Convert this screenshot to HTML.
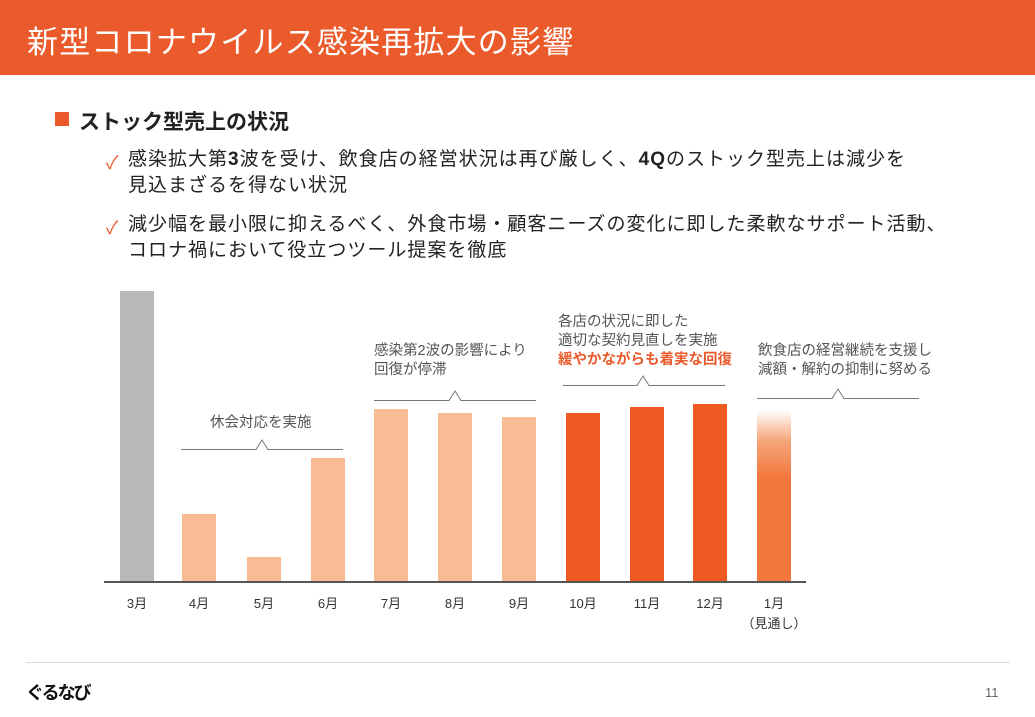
<!DOCTYPE html>
<html><head><meta charset="utf-8"><style>
body{margin:0;width:1035px;height:717px;background:#fff;position:relative;overflow:hidden;font-family:"Liberation Sans","Noto Sans CJK JP",sans-serif;}
.a{position:absolute;white-space:nowrap;}
.bar{position:absolute;width:34px;}
.lt{background:#F8BB94}
.dk{background:#EE5A22}
.ml{position:absolute;font-size:13px;color:#333;top:593px;width:60px;text-align:center;}
.note{position:absolute;font-size:14.5px;color:#555;line-height:19px;white-space:nowrap;}
.bl{position:absolute;left:128px;font-size:19px;color:#222;line-height:26px;letter-spacing:1px;white-space:nowrap;}
.ck{position:absolute;left:106px;font-size:18px;color:#EA5A2B;}
</style></head><body>
<div class="a" style="left:0;top:0;width:1035px;height:75px;background:#EA5A2B;"></div>
<div class="a" style="left:27px;top:17px;font-size:31px;color:#fff;letter-spacing:1.2px;">新型コロナウイルス感染再拡大の影響</div>
<div class="a" style="left:55px;top:112px;width:14px;height:14px;background:#EA5A2B;"></div>
<div class="a" style="left:79px;top:106px;font-size:21px;font-weight:bold;color:#222;">ストック型売上の状況</div>
<div class="ck" style="top:149px">✓</div>
<div class="bl" style="top:147px">感染拡大第<b>3</b>波を受け、飲食店の経営状況は再び厳しく、<b>4Q</b>のストック型売上は減少を<br>見込まざるを得ない状況</div>
<div class="ck" style="top:214px">✓</div>
<div class="bl" style="top:212px">減少幅を最小限に抑えるべく、外食市場・顧客ニーズの変化に即した柔軟なサポート活動、<br>コロナ禍において役立つツール提案を徹底</div>

<div class="bar" style="left:120px;top:291px;height:291px;background:#B8B8B8"></div>
<div class="bar lt" style="left:182px;top:514px;height:68px"></div>
<div class="bar lt" style="left:247px;top:557px;height:25px"></div>
<div class="bar lt" style="left:311px;top:458px;height:124px"></div>
<div class="bar lt" style="left:374px;top:409px;height:173px"></div>
<div class="bar lt" style="left:438px;top:413px;height:169px"></div>
<div class="bar lt" style="left:502px;top:417px;height:165px"></div>
<div class="bar dk" style="left:566px;top:413px;height:169px"></div>
<div class="bar dk" style="left:630px;top:407px;height:175px"></div>
<div class="bar dk" style="left:693px;top:404px;height:178px"></div>
<div class="bar" style="left:757px;top:410px;height:172px;background:linear-gradient(#fff 0%,#F6A57A 18%,#F2773C 40%,#F2773C 100%)"></div>
<div class="a" style="left:104px;top:581px;width:702px;height:2px;background:#555"></div>

<div class="ml" style="left:107px">3月</div><div class="ml" style="left:169px">4月</div><div class="ml" style="left:234px">5月</div><div class="ml" style="left:298px">6月</div><div class="ml" style="left:361px">7月</div><div class="ml" style="left:425px">8月</div><div class="ml" style="left:489px">9月</div><div class="ml" style="left:553px">10月</div><div class="ml" style="left:617px">11月</div><div class="ml" style="left:680px">12月</div><div class="ml" style="left:744px">1月</div>
<div class="ml" style="left:734px;top:613px;width:80px">（見通し）</div>

<svg class="a" style="left:0;top:0" width="1035" height="717">
<g fill="none" stroke="#777" stroke-width="1">
<polyline points="181,449.5 256,449.5 262,440 268,449.5 343,449.5"/>
<polyline points="374,400.5 449,400.5 455,391 461,400.5 536,400.5"/>
<polyline points="563,385.5 637,385.5 643,376 649,385.5 725,385.5"/>
<polyline points="757,398.5 832,398.5 838,389 844,398.5 919,398.5"/>
</g>
<line x1="26" y1="662.5" x2="1010" y2="662.5" stroke="#ddd"/>
</svg>
<div class="note" style="left:210px;top:414px">休会対応を実施</div>
<div class="note" style="left:374px;top:342px">感染第2波の影響により<br>回復が停滞</div>
<div class="note" style="left:558px;top:313px">各店の状況に即した<br>適切な契約見直しを実施<br><b style="color:#EA5A2B">緩やかながらも着実な回復</b></div>
<div class="note" style="left:758px;top:342px">飲食店の経営継続を支援し<br>減額・解約の抑制に努める</div>
<div class="a" style="left:26px;top:679px;font-size:18px;font-weight:bold;color:#111;letter-spacing:-2px;">ぐるなび</div>
<div class="a" style="left:985px;top:685px;font-size:13px;color:#666;">11</div>
</body></html>
